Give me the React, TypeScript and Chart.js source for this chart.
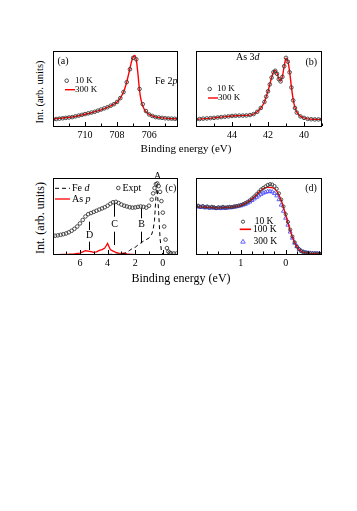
import React, { useEffect, useRef } from "react";
import { Chart, registerables } from "chart.js";
Chart.register(...registerables);

const SERIF = "'Liberation Serif', 'Times New Roman', serif";

// ---------- Panel (a): Fe 2p ----------
const A_TICKS = [710, 708, 706];
const A_BE_10K = [712.0, 711.8, 711.6, 711.4, 711.2, 711.0, 710.8, 710.6, 710.4, 710.2, 710.0, 709.8, 709.6, 709.4, 709.2, 709.0, 708.8, 708.6, 708.4, 708.2, 708.0, 707.8, 707.6, 707.4, 707.2, 707.0, 706.8, 706.6, 706.4, 706.2, 706.0, 705.8, 705.6, 705.4, 705.2, 705.0, 704.8, 704.6, 704.4, 704.2];
const A_INT_10K = [0.10, 0.105, 0.11, 0.115, 0.12, 0.125, 0.13, 0.14, 0.15, 0.16, 0.17, 0.18, 0.19, 0.20, 0.215, 0.23, 0.245, 0.26, 0.28, 0.30, 0.33, 0.38, 0.46, 0.59, 0.76, 0.91, 0.89, 0.50, 0.30, 0.21, 0.165, 0.145, 0.13, 0.125, 0.12, 0.115, 0.112, 0.11, 0.108, 0.107];
const A_BE_300K = [712, 711.6, 711.2, 710.8, 710.4, 710.0, 709.6, 709.2, 708.8, 708.4, 708.2, 708.0, 707.8, 707.6, 707.5, 707.4, 707.3, 707.2, 707.1, 707.0, 706.9, 706.8, 706.7, 706.6, 706.5, 706.4, 706.3, 706.2, 706.0, 705.8, 705.6, 705.2, 704.8, 704.4, 704.2];
const A_INT_300K = [0.105, 0.115, 0.122, 0.132, 0.148, 0.168, 0.188, 0.212, 0.242, 0.278, 0.30, 0.33, 0.38, 0.46, 0.52, 0.59, 0.68, 0.77, 0.86, 0.92, 0.94, 0.88, 0.70, 0.48, 0.35, 0.28, 0.23, 0.20, 0.165, 0.145, 0.132, 0.12, 0.112, 0.108, 0.107];

// ---------- Panel (b): As 3d ----------
const B_TICKS = [44, 42, 40];
const B_BE_10K = [46.0, 45.8, 45.6, 45.4, 45.2, 45.0, 44.8, 44.6, 44.4, 44.2, 44.0, 43.8, 43.6, 43.4, 43.2, 43.0, 42.8, 42.6, 42.4, 42.2, 42.1, 42.0, 41.9, 41.8, 41.7, 41.6, 41.5, 41.4, 41.3, 41.2, 41.1, 41.0, 40.9, 40.8, 40.7, 40.6, 40.5, 40.4, 40.2, 40.0, 39.8, 39.6, 39.4, 39.2, 39.0];
const B_INT_10K = [0.10, 0.105, 0.11, 0.113, 0.117, 0.12, 0.125, 0.13, 0.135, 0.14, 0.145, 0.148, 0.15, 0.15, 0.152, 0.157, 0.17, 0.20, 0.25, 0.33, 0.40, 0.47, 0.56, 0.65, 0.72, 0.74, 0.70, 0.63, 0.60, 0.66, 0.80, 0.91, 0.86, 0.72, 0.52, 0.35, 0.25, 0.19, 0.14, 0.12, 0.107, 0.102, 0.10, 0.10, 0.10];
const B_BE_300K = [46, 45.5, 45, 44.5, 44, 43.5, 43, 42.8, 42.6, 42.4, 42.2, 42.1, 42.0, 41.9, 41.8, 41.7, 41.6, 41.5, 41.4, 41.3, 41.2, 41.1, 41.0, 40.9, 40.8, 40.7, 40.6, 40.5, 40.4, 40.2, 40.0, 39.8, 39.5, 39.0];
const B_INT_300K = [0.10, 0.11, 0.12, 0.133, 0.145, 0.15, 0.157, 0.17, 0.20, 0.25, 0.33, 0.40, 0.47, 0.56, 0.65, 0.72, 0.745, 0.71, 0.635, 0.605, 0.665, 0.80, 0.905, 0.87, 0.73, 0.53, 0.36, 0.255, 0.195, 0.14, 0.12, 0.107, 0.101, 0.10];

// ---------- Panel (c): valence band ----------
const C_TICKS = [6, 4, 2, 0];
const C_BE_EXPT = [8.0, 7.8, 7.6, 7.4, 7.2, 7.0, 6.8, 6.6, 6.4, 6.2, 6.0, 5.8, 5.6, 5.4, 5.2, 5.0, 4.8, 4.6, 4.4, 4.2, 4.0, 3.8, 3.6, 3.4, 3.2, 3.0, 2.8, 2.6, 2.4, 2.2, 2.0, 1.8, 1.6, 1.4, 1.2, 1.0, 0.8, 0.7, 0.6, 0.5, 0.4, 0.3, 0.2, 0.1, 0.0, -0.1, -0.2, -0.3, -0.4, -0.5, -0.6, -0.8, -1.0];
const C_INT_EXPT = [0.245, 0.25, 0.255, 0.262, 0.27, 0.28, 0.295, 0.315, 0.34, 0.37, 0.41, 0.455, 0.50, 0.53, 0.545, 0.56, 0.575, 0.59, 0.605, 0.62, 0.64, 0.665, 0.685, 0.69, 0.675, 0.655, 0.64, 0.63, 0.62, 0.615, 0.618, 0.625, 0.63, 0.625, 0.615, 0.64, 0.72, 0.80, 0.87, 0.92, 0.93, 0.895, 0.82, 0.70, 0.55, 0.37, 0.20, 0.09, 0.045, 0.03, 0.022, 0.02, 0.02];
const C_BE_FED = [8, 7, 6, 5, 4, 3.4, 3.0, 2.8, 2.6, 2.4, 2.2, 2.0, 1.8, 1.6, 1.4, 1.2, 1.0, 0.8, 0.7, 0.6, 0.5, 0.45, 0.4, 0.3, 0.2, 0.1, 0.0, -0.2, -1.1];
const C_INT_FED = [0.005, 0.006, 0.006, 0.006, 0.008, 0.01, 0.012, 0.02, 0.035, 0.06, 0.085, 0.10, 0.13, 0.155, 0.18, 0.20, 0.22, 0.27, 0.33, 0.45, 0.75, 0.91, 0.85, 0.55, 0.22, 0.05, 0.01, 0.0, 0.0];
const C_BE_ASP = [8, 7.6, 7.2, 6.8, 6.4, 6.0, 5.8, 5.6, 5.4, 5.2, 5.0, 4.8, 4.6, 4.4, 4.2, 4.1, 4.0, 3.9, 3.8, 3.6, 3.4, 3.2, 3.0, 2.8, 2.6, 2.4, 2.0, 1.5, 1.0, 0.5, 0.0, -0.5, -1.1];
const C_INT_ASP = [0.005, 0.006, 0.008, 0.01, 0.015, 0.025, 0.04, 0.055, 0.05, 0.045, 0.035, 0.04, 0.06, 0.07, 0.09, 0.12, 0.15, 0.11, 0.07, 0.05, 0.035, 0.025, 0.02, 0.025, 0.015, 0.01, 0.006, 0.004, 0.003, 0.002, 0.001, 0, 0];
const C_PEAK_NAMES = ["A", "B", "C", "D"];
const C_PEAK_BE = [0.45, 1.6, 3.5, 5.35];

// ---------- Panel (d): near E_F ----------
const D_TICKS = [1, 0];
const D_BE_10K = [2.0, 1.95, 1.9, 1.85, 1.8, 1.75, 1.7, 1.65, 1.6, 1.55, 1.5, 1.45, 1.4, 1.35, 1.3, 1.25, 1.2, 1.15, 1.1, 1.05, 1.0, 0.95, 0.9, 0.85, 0.8, 0.75, 0.7, 0.65, 0.6, 0.55, 0.5, 0.45, 0.4, 0.35, 0.3, 0.25, 0.2, 0.15, 0.1, 0.05, 0.0, -0.05, -0.1, -0.15, -0.2, -0.25, -0.3, -0.35, -0.4, -0.45, -0.5, -0.55, -0.6, -0.65, -0.7, -0.75, -0.8];
const D_INT_10K = [0.63, 0.64, 0.625, 0.635, 0.62, 0.63, 0.615, 0.625, 0.62, 0.61, 0.62, 0.615, 0.625, 0.615, 0.62, 0.625, 0.62, 0.63, 0.635, 0.64, 0.65, 0.66, 0.675, 0.69, 0.71, 0.735, 0.76, 0.79, 0.82, 0.85, 0.87, 0.89, 0.91, 0.92, 0.915, 0.895, 0.86, 0.80, 0.72, 0.63, 0.53, 0.43, 0.33, 0.24, 0.165, 0.11, 0.075, 0.05, 0.037, 0.03, 0.025, 0.022, 0.02, 0.02, 0.018, 0.018, 0.017];
const D_BE_100K = [2.0, 1.9, 1.8, 1.7, 1.6, 1.5, 1.4, 1.3, 1.2, 1.1, 1.0, 0.9, 0.8, 0.7, 0.6, 0.5, 0.4, 0.3, 0.2, 0.1, 0.0, -0.1, -0.2, -0.3, -0.4, -0.5, -0.6, -0.7, -0.8];
const D_INT_100K = [0.625, 0.625, 0.62, 0.618, 0.615, 0.612, 0.615, 0.618, 0.622, 0.63, 0.645, 0.67, 0.705, 0.755, 0.815, 0.86, 0.88, 0.875, 0.83, 0.71, 0.52, 0.32, 0.16, 0.07, 0.035, 0.024, 0.02, 0.018, 0.017];
const D_BE_300K = D_BE_10K;
const D_INT_300K = [0.625, 0.63, 0.62, 0.625, 0.615, 0.62, 0.61, 0.615, 0.61, 0.605, 0.61, 0.605, 0.61, 0.608, 0.612, 0.615, 0.618, 0.622, 0.628, 0.635, 0.64, 0.65, 0.66, 0.675, 0.69, 0.71, 0.73, 0.75, 0.77, 0.79, 0.805, 0.815, 0.825, 0.825, 0.82, 0.80, 0.77, 0.72, 0.65, 0.57, 0.48, 0.39, 0.30, 0.22, 0.155, 0.11, 0.075, 0.052, 0.04, 0.032, 0.027, 0.024, 0.022, 0.02, 0.02, 0.019, 0.018];

const LEG_TEMPS_AB = ["10 K", "300 K"];
const LEG_TEMPS_D = ["10 K", "100 K", "300 K"];

const pts = (xs: number[], ys: number[]) => xs.map((x, i) => ({ x, y: ys[i] }));

const GRAY = "#3a3a3a";
const RED = "#ff0000";
const BLUE = "#5050ff";

type Seg = { t: string; i?: boolean };

function rich(ctx: CanvasRenderingContext2D, segs: Seg[], x: number, y: number, size: number, align: "left" | "center" = "left") {
  ctx.save();
  ctx.textBaseline = "middle";
  ctx.fillStyle = "#000";
  const widths = segs.map((s) => {
    ctx.font = `${s.i ? "italic " : ""}${size}px ${SERIF}`;
    return ctx.measureText(s.t).width;
  });
  const total = widths.reduce((a, b) => a + b, 0);
  let cx = align === "center" ? x - total / 2 : x;
  segs.forEach((s, k) => {
    ctx.font = `${s.i ? "italic " : ""}${size}px ${SERIF}`;
    ctx.textAlign = "left";
    ctx.fillText(s.t, cx, y);
    cx += widths[k];
  });
  ctx.restore();
}

function circle(ctx: CanvasRenderingContext2D, x: number, y: number, r: number, color: string) {
  ctx.save();
  ctx.strokeStyle = color;
  ctx.lineWidth = 0.9;
  ctx.beginPath();
  ctx.arc(x, y, r, 0, Math.PI * 2);
  ctx.stroke();
  ctx.restore();
}

function tri(ctx: CanvasRenderingContext2D, x: number, y: number, r: number, color: string) {
  ctx.save();
  ctx.strokeStyle = color;
  ctx.lineWidth = 0.9;
  ctx.beginPath();
  ctx.moveTo(x, y - r);
  ctx.lineTo(x + r * 0.95, y + r * 0.6);
  ctx.lineTo(x - r * 0.95, y + r * 0.6);
  ctx.closePath();
  ctx.stroke();
  ctx.restore();
}

function seg(ctx: CanvasRenderingContext2D, x1: number, y1: number, x2: number, y2: number, color: string, w: number, dash: number[] = []) {
  ctx.save();
  ctx.strokeStyle = color;
  ctx.lineWidth = w;
  ctx.setLineDash(dash);
  ctx.beginPath();
  ctx.moveTo(x1, y1);
  ctx.lineTo(x2, y2);
  ctx.stroke();
  ctx.restore();
}

interface PanelProps {
  left: number; top: number; width: number; height: number;
  xMin: number; xMax: number; ticks: number[]; minor: number;
  datasets: any[];
  deco: (ctx: CanvasRenderingContext2D, L: number, T: number, chart: any) => void;
}

const PADL = 6, PADT = 10, AXH = 20;

function Panel(p: PanelProps) {
  const ref = useRef<HTMLCanvasElement | null>(null);
  const W = p.width + PADL * 2;
  const H = p.height + PADT + AXH;
  useEffect(() => {
    if (!ref.current) return;
    const framePlugin = {
      id: "frame",
      afterDraw(chart: any) {
        const ctx: CanvasRenderingContext2D = chart.ctx;
        const a = chart.chartArea;
        const xs = chart.scales.x;
        ctx.save();
        ctx.strokeStyle = "#000";
        ctx.lineWidth = 1;
        ctx.strokeRect(Math.round(a.left) + 0.5, Math.round(a.top) + 0.5, Math.round(a.right - a.left) - 1, Math.round(a.bottom - a.top) - 1);
        // inward ticks
        const lo = Math.min(p.xMin, p.xMax), hi = Math.max(p.xMin, p.xMax);
        const n0 = Math.ceil(lo / p.minor - 1e-6), n1 = Math.floor(hi / p.minor + 1e-6);
        for (let n = n0; n <= n1; n++) {
          const v = n * p.minor;
          const isMajor = p.ticks.some((t) => Math.abs(t - v) < 1e-6);
          const px = Math.round(xs.getPixelForValue(v)) + 0.5;
          const len = isMajor ? 4 : 2.5;
          ctx.beginPath();
          ctx.moveTo(px, a.bottom - 1);
          ctx.lineTo(px, a.bottom - 1 - len);
          ctx.stroke();
        }
        ctx.restore();
        p.deco(ctx, a.left, a.top, chart);
      },
    };
    const chart = new Chart(ref.current, {
      type: "scatter",
      data: { datasets: p.datasets },
      options: {
        animation: false,
        responsive: false,
        devicePixelRatio: 1,
        layout: { padding: { left: PADL, right: PADL, top: PADT, bottom: 0 } },
        plugins: { legend: { display: false }, tooltip: { enabled: false } },
        scales: {
          x: {
            type: "linear",
            reverse: true,
            min: p.xMin,
            max: p.xMax,
            grid: { display: false, drawTicks: false },
            border: { display: false },
            ticks: { font: { family: SERIF, size: 10 }, color: "#000", padding: 2, maxRotation: 0, autoSkip: false },
            afterBuildTicks: (s: any) => { s.ticks = p.ticks.map((v) => ({ value: v })); },
            afterFit: (s: any) => { s.height = AXH; },
          },
          y: { display: false, min: 0, max: 1 },
        },
      } as any,
      plugins: [framePlugin],
    });
    return () => chart.destroy();
  }, []);
  return (
    <canvas
      ref={ref}
      width={W}
      height={H}
      style={{ position: "absolute", left: p.left - PADL, top: p.top - PADT, width: W, height: H }}
    />
  );
}

const circles = (data: any[], r = 1.8, color = GRAY) => ({
  data, showLine: false, pointStyle: "circle", pointRadius: r, borderColor: color,
  backgroundColor: "rgba(0,0,0,0)", pointBorderWidth: 0.9, borderWidth: 0.9,
});
const line = (data: any[], color: string, w = 1.5, dash: number[] = [], smooth = true) => ({
  data, showLine: true, pointRadius: 0, borderColor: color, borderWidth: w, borderDash: dash,
  backgroundColor: color, cubicInterpolationMode: smooth ? "monotone" : "default", tension: 0,
});

export default function App() {
  const label = (text: string, cx: number, cy: number, size: number, rot = false) => (
    <div
      style={{
        position: "absolute", left: cx, top: cy, transform: `translate(-50%, -50%)${rot ? " rotate(-90deg)" : ""}`,
        fontFamily: SERIF, fontSize: size, color: "#000", whiteSpace: "nowrap", lineHeight: 1,
      }}
    >
      {text}
    </div>
  );
  return (
    <div style={{ position: "fixed", left: 0, top: 0, width: 357, height: 511, background: "#fff", overflow: "hidden" }}>
      <Panel
        left={53} top={51} width={125} height={76}
        xMin={704.2} xMax={712} ticks={A_TICKS} minor={1}
        datasets={[circles(pts(A_BE_10K, A_INT_10K)), line(pts(A_BE_300K, A_INT_300K), RED, 1.4)]}
        deco={(ctx, L, T) => {
          rich(ctx, [{ t: "(a)" }], L + 10, T + 10, 10, "center");
          rich(ctx, [{ t: "Fe 2" }, { t: "p", i: true }], L + 102, T + 30.5, 10);
          circle(ctx, L + 13.7, T + 29.7, 1.8, GRAY);
          rich(ctx, [{ t: LEG_TEMPS_AB[0] }], L + 22, T + 29.7, 9);
          seg(ctx, L + 12, T + 38.7, L + 22, T + 38.7, RED, 1.4);
          rich(ctx, [{ t: LEG_TEMPS_AB[1] }], L + 22, T + 38.7, 9);
        }}
      />
      <Panel
        left={196} top={51} width={126} height={76}
        xMin={39} xMax={46} ticks={B_TICKS} minor={1}
        datasets={[circles(pts(B_BE_10K, B_INT_10K)), line(pts(B_BE_300K, B_INT_300K), RED, 1.4)]}
        deco={(ctx, L, T) => {
          rich(ctx, [{ t: "As 3" }, { t: "d", i: true }], L + 40, T + 6.5, 10);
          rich(ctx, [{ t: "(b)" }], L + 115.3, T + 11, 10, "center");
          circle(ctx, L + 13.7, T + 38, 1.8, GRAY);
          rich(ctx, [{ t: LEG_TEMPS_AB[0] }], L + 21, T + 38, 9);
          seg(ctx, L + 12, T + 47, L + 22, T + 47, RED, 1.4);
          rich(ctx, [{ t: LEG_TEMPS_AB[1] }], L + 22, T + 47, 9);
        }}
      />
      <Panel
        left={53} top={178} width={125} height={77}
        xMin={-1.1} xMax={7.95} ticks={C_TICKS} minor={1}
        datasets={[
          circles(pts(C_BE_EXPT, C_INT_EXPT), 1.8),
          line(pts(C_BE_FED, C_INT_FED), "#000", 1, [4, 3], false),
          line(pts(C_BE_ASP, C_INT_ASP), RED, 1.3, [], false),
        ]}
        deco={(ctx, L, T, chart) => {
          const xs = chart.scales.x;
          seg(ctx, L + 2, T + 10.3, L + 17, T + 10.3, "#000", 1, [4, 3]);
          rich(ctx, [{ t: "Fe " }, { t: "d", i: true }], L + 19, T + 10.3, 10);
          seg(ctx, L + 2, T + 21, L + 17, T + 21, RED, 1.3);
          rich(ctx, [{ t: "As " }, { t: "p", i: true }], L + 19, T + 21, 10);
          circle(ctx, L + 65.3, T + 10, 1.8, GRAY);
          rich(ctx, [{ t: "Expt" }], L + 69.5, T + 10, 10);
          rich(ctx, [{ t: "(c)" }], L + 117.8, T + 10, 10, "center");
          // peak markers
          const spec = [
            { ly: -1.8, u: null as null | number[], d: null as null | number[] },
            { ly: 46.2, u: [30.3, 40.3], d: [53.7, 65.3] },
            { ly: 46.2, u: [25.3, 38.7], d: [53.7, 67] },
            { ly: 57, u: [43.7, 52], d: [63.7, 72] },
          ];
          C_PEAK_NAMES.forEach((nm, i) => {
            const px = Math.round(xs.getPixelForValue(C_PEAK_BE[i])) + 0.5;
            const s = spec[i];
            rich(ctx, [{ t: nm }], px, T + s.ly, 10, "center");
            if (s.u) seg(ctx, px, T + s.u[0], px, T + s.u[1], "#000", 1);
            if (s.d) seg(ctx, px, T + s.d[0], px, T + s.d[1], "#000", 1);
          });
        }}
      />
      <Panel
        left={196} top={178} width={126} height={77}
        xMin={-0.81} xMax={2.0} ticks={D_TICKS} minor={0.25}
        datasets={[
          circles(pts(D_BE_10K, D_INT_10K), 1.6),
          line(pts(D_BE_100K, D_INT_100K), RED, 1.4),
          { ...circles(pts(D_BE_300K, D_INT_300K), 2.3, BLUE), pointStyle: "triangle" },
        ]}
        deco={(ctx, L, T) => {
          rich(ctx, [{ t: "(d)" }], L + 115, T + 10, 10, "center");
          circle(ctx, L + 47, T + 43.7, 1.6, GRAY);
          rich(ctx, [{ t: LEG_TEMPS_D[0] }], L + 58.7, T + 43.7, 9.5);
          seg(ctx, L + 43.7, T + 51.3, L + 55, T + 51.3, RED, 1.6);
          rich(ctx, [{ t: LEG_TEMPS_D[1] }], L + 57, T + 51.3, 9.5);
          tri(ctx, L + 47, T + 63.7, 2.4, BLUE);
          rich(ctx, [{ t: LEG_TEMPS_D[2] }], L + 57.5, T + 63.7, 9.5);
        }}
      />
      {label("Int. (arb. units)", 40, 92, 10.5, true)}
      {label("Int. (arb. units)", 40, 218, 12, true)}
      {label("Binding energy (eV)", 186, 148, 11)}
      {label("Binding energy (eV)", 181, 278, 12)}
    </div>
  );
}
